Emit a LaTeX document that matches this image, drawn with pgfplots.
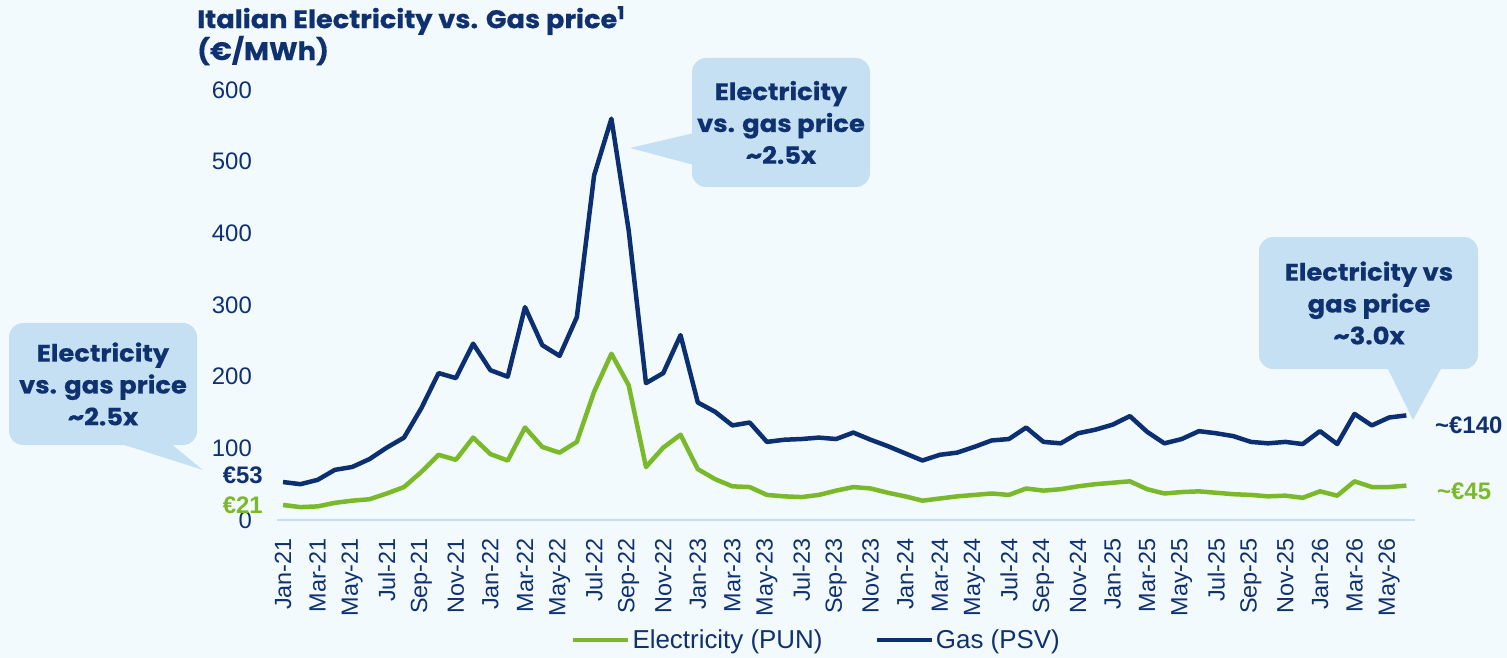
\documentclass[border=0pt]{standalone}
\usepackage{fontspec}
\setmainfont{Liberation Sans}
\newfontfamily\titlefont{Poppins}[FakeStretch=1.07, FakeBold=0.5]
\newfontfamily\callfont{Poppins}[FakeStretch=1.08, FakeBold=0.5]
\usepackage{pgfplots}
\pgfplotsset{compat=1.18}
\definecolor{navy}{HTML}{0B2F70}
\definecolor{navytext}{HTML}{0F3170}
\definecolor{lgreen}{HTML}{7AB929}
\definecolor{boxblue}{HTML}{C6E0F3}
\definecolor{bg}{HTML}{F3FAFE}
\definecolor{axblue}{HTML}{C9DCF5}
\begin{document}
\begin{tikzpicture}[x=1bp,y=1bp]
\fill[bg] (0,0) rectangle (1507,-658);
\path[use as bounding box] (0,0) rectangle (1507,-658);
\begin{axis}[
  at={(277bp,-520bp)}, anchor=south west,
  scale only axis, width=1138bp, height=430bp,
  xmin=-0.35, xmax=65.5, ymin=0, ymax=600,
  axis x line*=bottom, axis y line*=left,
  y axis line style={draw=none},
  x axis line style={draw=axblue, line width=1.5bp, -},
  major tick length=0pt,
  xtick={0,2,...,64},
  xticklabels={Jan-21,Mar-21,May-21,Jul-21,Sep-21,Nov-21,Jan-22,Mar-22,May-22,Jul-22,Sep-22,Nov-22,Jan-23,Mar-23,May-23,Jul-23,Sep-23,Nov-23,Jan-24,Mar-24,May-24,Jul-24,Sep-24,Nov-24,Jan-25,Mar-25,May-25,Jul-25,Sep-25,Nov-25,Jan-26,Mar-26,May-26},
  xticklabel style={rotate=90, anchor=east, font=\fontsize{23.5}{25}\selectfont, text=navytext, inner sep=0pt},
  ytick={0,100,...,600},
  yticklabel style={font=\fontsize{24}{26}\selectfont, text=navytext, inner sep=0pt},
  /pgf/number format/assume math mode=true,
  xticklabel shift=18bp, yticklabel shift=25bp,
  clip=false,
  legend columns=2,
  legend style={at={(0.474,-0.279)}, anchor=center, draw=none, fill=none,
    font=\fontsize{26}{28}\selectfont, text=navytext,
    /tikz/every even column/.append style={column sep=50bp}},
  legend image code/.code={\draw[#1, line width=4.5bp] (0bp,0bp) -- (55bp,0bp);},
]
\addplot[lgreen, line width=4.5bp, line join=round] coordinates {
(0,21)(1,18)(2,19)(3,24)(4,27)(5,29)(6,37)(7,46)(8,67)(9,91)(10,84)(11,115)(12,92)(13,83)(14,129)(15,102)(16,94)(17,109)(18,179)(19,232)(20,188)(21,74)(22,101)(23,119)(24,71)(25,57)(26,47)(27,46)(28,35)(29,33)(30,32)(31,35)(32,41)(33,46)(34,44)(35,38)(36,33)(37,27)(38,30)(39,33)(40,35)(41,37)(42,35)(43,44)(44,41)(45,43)(46,47)(47,50)(48,52)(49,54)(50,43)(51,37)(52,39)(53,40)(54,38)(55,36)(56,35)(57,33)(58,34)(59,31)(60,40)(61,34)(62,54)(63,46)(64,46)(65,48)
};
\addlegendentry{Electricity (PUN)}
\addplot[navy, line width=4.5bp, line join=round] coordinates {
(0,53)(1,50)(2,56)(3,70)(4,74)(5,85)(6,101)(7,115)(8,156)(9,205)(10,198)(11,246)(12,209)(13,200)(14,297)(15,244)(16,229)(17,283)(18,481)(19,560)(20,404)(21,191)(22,205)(23,258)(24,164)(25,151)(26,132)(27,136)(28,109)(29,112)(30,113)(31,115)(32,113)(33,122)(34,112)(35,103)(36,93)(37,83)(38,91)(39,94)(40,102)(41,111)(42,113)(43,129)(44,109)(45,107)(46,121)(47,126)(48,133)(49,145)(50,123)(51,107)(52,113)(53,124)(54,121)(55,117)(56,109)(57,107)(58,109)(59,106)(60,124)(61,106)(62,148)(63,132)(64,143)(65,146)
};
\addlegendentry{Gas (PSV)}
\end{axis}
% title
\node[anchor=north west, align=left, text=navytext, inner sep=0pt,
  font={\titlefont\bfseries\fontsize{25.5}{32}\selectfont}] at (197,-6)
  {Italian Electricity vs. Gas price\textsuperscript{1}\\(€/MWh)};
% middle callout
\fill[boxblue, rounded corners=14bp] (692,-58) rectangle (870,-187);
\fill[boxblue] (694,-133) -- (630,-148) -- (694,-165) -- cycle;
\node[align=center, text=navytext, font={\callfont\bfseries\fontsize{24}{32}\selectfont}]
  at (781,-122.5) {Electricity\\vs. gas price\\\textasciitilde 2.5x};
% left callout
\fill[boxblue, rounded corners=14bp] (9,-323) rectangle (197,-445);
\fill[boxblue] (118,-443) -- (203,-470) -- (170,-443) -- cycle;
\node[align=center, text=navytext, font={\callfont\bfseries\fontsize{24}{32}\selectfont}]
  at (103,-384) {Electricity\\vs. gas price\\\textasciitilde 2.5x};
% right callout
\fill[boxblue, rounded corners=14bp] (1259,-237) rectangle (1478,-369);
\fill[boxblue] (1387,-367) -- (1413,-420) -- (1442,-367) -- cycle;
\node[align=center, text=navytext, font={\callfont\bfseries\fontsize{24}{32}\selectfont}]
  at (1369,-303) {Electricity vs\\gas price\\\textasciitilde 3.0x};
% end labels
\node[anchor=east, text=navytext, font={\bfseries\fontsize{24}{26}\selectfont}, inner sep=0pt] at (263,-475) {€53};
\node[anchor=east, text=lgreen, font={\bfseries\fontsize{24}{26}\selectfont}, inner sep=0pt] at (263,-505) {€21};
\node[anchor=west, text=navytext, font={\bfseries\fontsize{24}{26}\selectfont}, inner sep=0pt] at (1435,-425) {\textasciitilde€140};
\node[anchor=west, text=lgreen, font={\bfseries\fontsize{24}{26}\selectfont}, inner sep=0pt] at (1437,-491) {\textasciitilde€45};
\end{tikzpicture}
\end{document}
